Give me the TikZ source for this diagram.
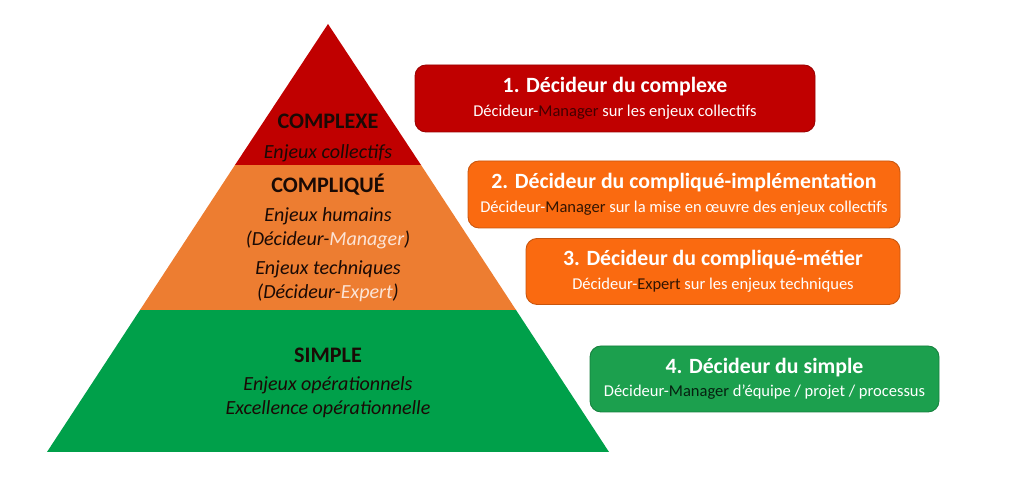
\documentclass[tikz,border=0pt]{standalone}
\usepackage{fontspec}
\setmainfont{Carlito}
\usepackage{tkz-euclide}
\definecolor{rougeC}{HTML}{C00000}
\definecolor{orangeP}{HTML}{ED7D31}
\definecolor{orangeB}{HTML}{FA6A10}
\definecolor{vertP}{HTML}{00A04A}
\definecolor{vertB}{HTML}{1CA04E}
\definecolor{texteP}{HTML}{1A0A05}
\definecolor{clairP}{HTML}{FCE4D6}
\tikzset{
  niveau/.style={rounded corners=0.22cm,minimum height=1.34cm,inner sep=0pt,
    align=center,text=white,line width=0.5pt,
    font=\fontsize{9.4pt}{13.4pt}\selectfont},
  pyrtexte/.style={align=center,text=texteP,inner sep=0pt},
  titreP/.style={font=\fontsize{12.6pt}{14pt}\selectfont\bfseries},
  enjeu/.style={font=\fontsize{11.4pt}{13.6pt}\selectfont\itshape},
}
\newcommand{\titreB}{\fontsize{12.4pt}{14pt}\selectfont\bfseries}

\begin{document}
\begin{tikzpicture}[line join=round]
    \useasboundingbox (0,0) rectangle (20.48,9.54);
    \tkzDefPoints{6.56/9.06/S,0.94/0.50/A,12.18/0.50/B}
    \tkzDefPoints{4.70/6.24/C,8.42/6.24/D}
    \tkzDefPoints{2.80/3.34/E,10.32/3.34/F}
    \tkzFillPolygon[color=vertP](A,B,F,E)
    \tkzFillPolygon[color=orangeP](E,F,D,C)
    \tkzFillPolygon[color=rougeC](C,D,S)
    % textes de la pyramide
    \node[pyrtexte,titreP] (complexe) at (6.56,7.12) {COMPLEXE};
    \node[pyrtexte,enjeu] (collectifs) at (6.56,6.48) {Enjeux collectifs};
    \node[pyrtexte,titreP] (complique) at (6.56,5.84) {COMPLIQUÉ};
    \node[pyrtexte,enjeu] (humains) at (6.56,4.98)
        {Enjeux humains\\(Décideur-{\color{clairP}Manager})};
    \node[pyrtexte,enjeu] (techniques) at (6.56,3.91)
        {Enjeux techniques\\(Décideur-{\color{clairP}Expert})};
    \node[pyrtexte,titreP] (simple) at (6.56,2.44) {SIMPLE};
    \node[pyrtexte,enjeu] (operationnels) at (6.56,1.59)
        {Enjeux opérationnels\\Excellence opérationnelle};
    % decideurs
    \node[niveau,fill=rougeC,draw=rougeC!80!black,minimum width=8.0cm] (dec1) at (12.30,7.57)
        {{\titreB 1. Décideur du complexe}\\
         Décideur-{\color{rougeC!35!black}Manager} sur les enjeux collectifs};
    \node[niveau,fill=orangeB,draw=orangeB!80!black,minimum width=8.64cm] (dec2) at (13.68,5.65)
        {{\titreB 2. Décideur du compliqué-implémentation}\\
         Décideur-{\color{orangeB!20!black}Manager} sur la mise en œuvre des enjeux collectifs};
    \node[niveau,fill=orangeB,draw=orangeB!80!black,minimum width=7.48cm,minimum height=1.32cm] (dec3) at (14.26,4.11)
        {{\titreB 3. Décideur du compliqué-métier}\\
         Décideur-{\color{orangeB!20!black}Expert} sur les enjeux techniques};
    \node[niveau,fill=vertB,draw=vertB!80!black,minimum width=6.98cm,minimum height=1.32cm] (dec4) at (15.29,1.96)
        {{\titreB 4. Décideur du simple}\\
         Décideur-{\color{vertB!20!black}Manager} d’équipe / projet / processus};
\end{tikzpicture}
\end{document}
